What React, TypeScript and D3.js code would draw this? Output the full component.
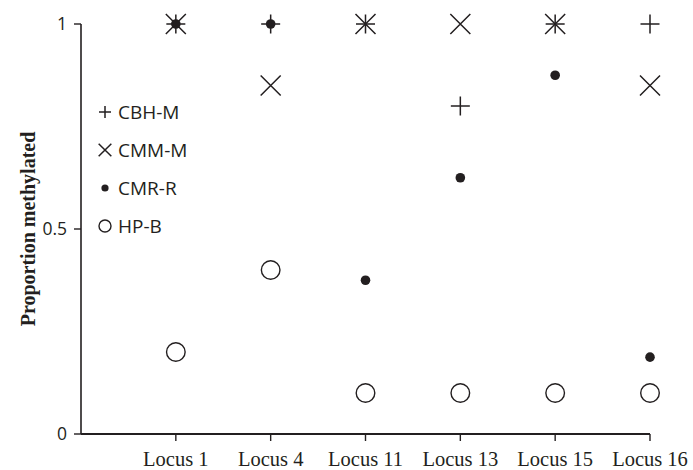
import React from "react";
import * as d3 from "d3";

const loci = ["Locus 1", "Locus 4", "Locus 11", "Locus 13", "Locus 15", "Locus 16"];
const cbhM = [1, 1, 1, 0.8, 1, 1];
const cmmM = [1, 0.85, 1, 1, 1, 0.85];
const cmrR = [1, 1, 0.375, 0.625, 0.875, 0.1875];
const hpB = [0.2, 0.4, 0.1, 0.1, 0.1, 0.1];
const yTicks = [0, 0.5, 1];
const yTickLabels = ["0", "0.5", "1"];
const legendLabels = ["CBH-M", "CMM-M", "CMR-R", "HP-B"];

const W = 693;
const H = 470;
const INK = "#231f20";

type Kind = "plus" | "cross" | "dot" | "circle";

function Marker({ kind, x, y, s }: { kind: Kind; x: number; y: number; s: number }) {
  if (kind === "plus") {
    return (
      <path
        d={`M${x - s},${y}H${x + s}M${x},${y - s}V${y + s}`}
        stroke={INK}
        strokeWidth={1.5}
        fill="none"
      />
    );
  }
  if (kind === "cross") {
    const d = s * 0.72;
    return (
      <path
        d={`M${x - d},${y - d}L${x + d},${y + d}M${x - d},${y + d}L${x + d},${y - d}`}
        stroke={INK}
        strokeWidth={1.5}
        fill="none"
      />
    );
  }
  if (kind === "dot") {
    return <circle cx={x} cy={y} r={s} fill={INK} />;
  }
  return <circle cx={x} cy={y} r={s} fill="white" stroke={INK} strokeWidth={1.4} />;
}

export default function App() {
  const x = d3.scaleLinear().domain([0, loci.length]).range([81, 650]);
  const y = d3.scaleLinear().domain([0, 1]).range([434, 24]);

  const series: { kind: Kind; values: number[]; size: number; lsize: number }[] = [
    { kind: "circle", values: hpB, size: 9.3, lsize: 6 },
    { kind: "dot", values: cmrR, size: 4.8, lsize: 3.6 },
    { kind: "cross", values: cmmM, size: 13.9, lsize: 8.8 },
    { kind: "plus", values: cbhM, size: 9.5, lsize: 6 },
  ];
  const legendOrder: Kind[] = ["plus", "cross", "dot", "circle"];
  const legendY = d3.scaleLinear().domain([0, 3]).range([112, 226]);

  const sans = "'Open Sans', 'Liberation Sans', sans-serif";
  const serif = "'Liberation Serif', 'Times New Roman', serif";

  return (
    <svg
      width={W}
      height={H}
      style={{ position: "absolute", left: 0, top: 0, background: "white" }}
    >
      {/* Y axis */}
      <line x1={x(0)} x2={x(0)} y1={y(1)} y2={y(0)} stroke={INK} strokeWidth={1.6} />
      {yTicks.map((t, i) => (
        <g key={t}>
          <line x1={x(0) - 7} x2={x(0)} y1={y(t)} y2={y(t)} stroke={INK} strokeWidth={1.4} />
          <text
            x={67}
            y={y(t)}
            dy="0.35em"
            textAnchor="end"
            fontFamily={sans}
            fontSize={17.5}
            fill={INK}
          >
            {yTickLabels[i]}
          </text>
        </g>
      ))}
      {/* X axis */}
      <line x1={x(0)} x2={x(loci.length)} y1={y(0)} y2={y(0)} stroke={INK} strokeWidth={1.8} />
      {loci.map((l, i) => (
        <g key={l}>
          <line
            x1={x(i + 1)}
            x2={x(i + 1)}
            y1={y(0)}
            y2={y(0) + 7}
            stroke={INK}
            strokeWidth={1.4}
          />
          <text
            x={x(i + 1)}
            y={465.5}
            textAnchor="middle"
            fontFamily={serif}
            fontSize={20.5}
            fill={INK}
          >
            {l}
          </text>
        </g>
      ))}
      {/* Y title */}
      <text
        transform={`translate(35,${229}) rotate(-90)`}
        textAnchor="middle"
        fontFamily={serif}
        fontWeight="bold"
        fontSize={20}
        fill={INK}
      >
        Proportion methylated
      </text>
      {/* Points */}
      {series.map((s) =>
        s.values.map((v, i) => (
          <Marker key={s.kind + i} kind={s.kind} x={x(i + 1)} y={y(v)} s={s.size} />
        ))
      )}
      {/* Legend */}
      {legendOrder.map((k, i) => {
        const ser = series.find((s) => s.kind === k)!;
        return (
          <g key={k}>
            <Marker kind={k} x={105} y={legendY(i)} s={ser.lsize} />
            <text
              x={118}
              y={legendY(i) + 6.6}
              fontFamily={sans}
              fontSize={19}
              fill={INK}
            >
              {legendLabels[i]}
            </text>
          </g>
        );
      })}
    </svg>
  );
}
